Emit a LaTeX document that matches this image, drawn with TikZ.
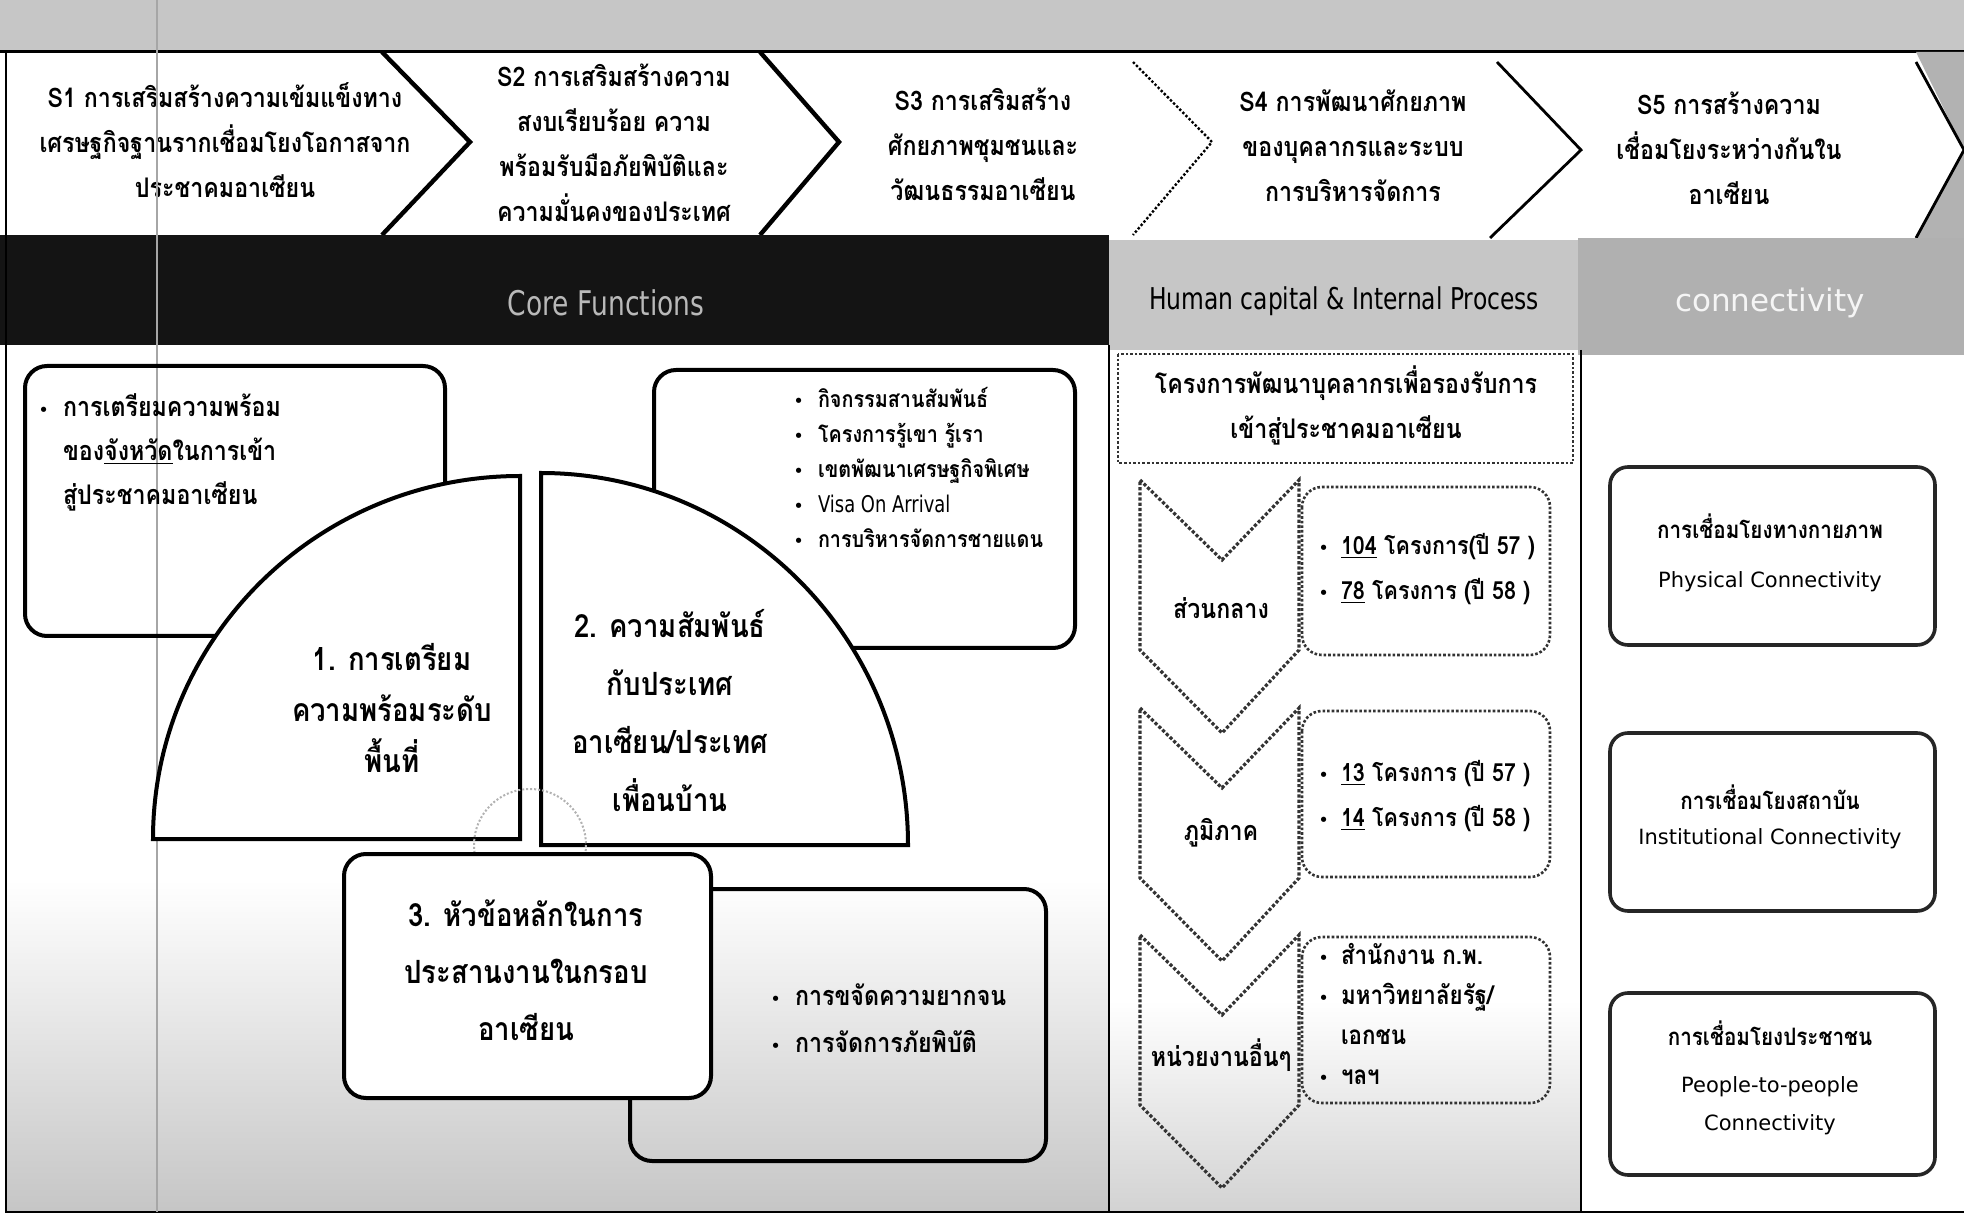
\documentclass[tikz,border=0pt]{standalone}
\usepackage{fontspec}
\setmainfont[Script=Thai]{Loma}
\newfontfamily\thai[Script=Thai,FakeStretch=0.86]{Loma}
\newfontfamily\lat{DejaVu Sans}
\newfontfamily\latc[FakeStretch=0.78]{DejaVu Sans}
\usetikzlibrary{calc}
\newcommand\fs[2]{\fontsize{#1}{#2}\selectfont}
\newcommand\bul{{\lat\mdseries\fontsize{9}{9}\selectfont\textbullet}}
\tikzset{
  hdr/.style={font=\thai\bfseries\fs{13.5}{22.5}, align=center, inner sep=0pt},
  bigtxt/.style={align=center, inner sep=0pt},
  lst/.style={inner sep=0pt, anchor=west},
  thick box/.style={draw=black, line width=2pt, rounded corners=11pt},
  dotbox/.style={draw=black!80, line width=1.3pt, densely dotted, rounded corners=10pt},
  chev/.style={draw=black!80, line width=1.6pt, densely dotted},
  conbox/.style={draw=black!85, line width=1.8pt, rounded corners=9pt},
}
\begin{document}
\begin{tikzpicture}[x=0.5pt,y=-0.5pt]
\useasboundingbox (0,0) rectangle (1964,1218);
\fill[white] (0,0) rectangle (1964,1218);
% bottom stipple-like shading
\shade[top color=white, bottom color=gray!45] (6,880) rectangle (1109,1212);
\shade[top color=white, bottom color=gray!35] (1109,1000) rectangle (1581,1212);
% top strip
\fill[gray!45] (0,0) rectangle (1964,52);
\draw[line width=1.5pt] (0,52) -- (1964,52);
% header right dark part
\fill[gray!60] (1916,52) -- (1964,52) -- (1964,150) -- cycle;
\fill[gray!60] (1916,238) -- (1964,238) -- (1964,150) -- cycle;
% header chevron edges
\draw[line width=2.2pt] (382,52) -- (470,142) -- (382,235);
\draw[line width=2.2pt] (760,52) -- (839,142) -- (760,235);
\draw[line width=1.2pt, densely dotted] (1133,62) -- (1212,142) -- (1133,235);
\draw[line width=1.4pt] (1497,62) -- (1581,150) -- (1490,238);
\draw[line width=1.4pt] (1916,62) -- (1964,150) -- (1916,238);
% header texts
\node[hdr] (s1) at (225,140) {S1 การเสริมสร้างความเข้มแข็งทาง\\เศรษฐกิจฐานรากเชื่อมโยงโอกาสจาก\\ประชาคมอาเซียน};
\node[hdr] (s2) at (614,143) {S2 การเสริมสร้างความ\\สงบเรียบร้อย ความ\\พร้อมรับมือภัยพิบัติและ\\ความมั่นคงของประเทศ};
\node[hdr] (s3) at (983,144) {S3 การเสริมสร้าง\\ศักยภาพชุมชนและ\\วัฒนธรรมอาเซียน};
\node[hdr] (s4) at (1353,146) {S4 การพัฒนาศักยภาพ\\ของบุคลากรและระบบ\\การบริหารจัดการ};
\node[hdr] (s5) at (1729,148) {S5 การสร้างความ\\เชื่อมโยงระหว่างกันใน\\อาเซียน};
% band
\fill[black!92] (0,235) rectangle (1109,345);
\fill[gray!45] (1109,240) rectangle (1578,350);
\fill[gray!62] (1578,238) rectangle (1964,355);
\node[font=\latc\fs{17}{20}, text=gray!55] (core) at (606,303) {Core Functions};
\node[font=\latc\fs{15}{18}] (hc) at (1344,301) {Human capital \& Internal Process};
\node[font=\lat\fs{15.5}{18}, text=gray!8] (cn) at (1770,303) {connectivity};
% frame lines
\draw[line width=1.2pt] (6,52) -- (6,1212) -- (1964,1212);
\draw[line width=1.2pt] (1109,345) -- (1109,1212);
\draw[line width=1.2pt] (1581,350) -- (1581,1212);
\draw[gray!70, line width=0.6pt] (157,0) -- (157,1212);
% left section
\draw[thick box] (25,366) rectangle (445,636);
\node[lst, font=\thai\bfseries\fs{13.5}{22}] (la) at (38,452) {\begin{tabular}{@{}l@{\hspace{7pt}}l@{}}\bul & การเตรียมความพร้อม\\ & ของ\underline{จังหวัด}ในการเข้า\\ & สู่ประชาคมอาเซียน\end{tabular}};
\draw[thick box] (654,370) rectangle (1075,648);
\node[lst, font=\thai\bfseries\fs{11.5}{17.5}] (lb) at (793,471) {\begin{tabular}{@{}l@{\hspace{7pt}}l@{}}\bul & กิจกรรมสานสัมพันธ์\\ \bul & โครงการรู้เขา รู้เรา\\ \bul & เขตพัฒนาเศรษฐกิจพิเศษ\\ \bul & {\latc\mdseries Visa On Arrival}\\ \bul & การบริหารจัดการชายแดน\end{tabular}};
% quarters
\draw[line width=2pt, fill=white] (153,839) arc[start angle=180, end angle=270, x radius=367, y radius=363] -- (520,839) -- cycle;
\draw[line width=2pt, fill=white] (541,473) arc[start angle=270, end angle=360, x radius=367, y radius=372] -- (541,845) -- cycle;
\node[bigtxt, font=\thai\bfseries\fs{16}{25.5}] (q1) at (392,708) {1. การเตรียม\\ความพร้อมระดับ\\พื้นที่};
\node[bigtxt, font=\thai\bfseries\fs{16}{29}] (q2) at (670,711) {2. ความสัมพันธ์\\กับประเทศ\\อาเซียน/ประเทศ\\เพื่อนบ้าน};
\draw[gray!60, densely dotted, line width=1pt] (530,845) circle[radius=56];
% bottom boxes
\draw[thick box] (630,889) rectangle (1046,1161);
\node[lst, font=\thai\bfseries\fs{13.5}{23.5}] (ld) at (770,1020) {\begin{tabular}{@{}l@{\hspace{7pt}}l@{}}\bul & การขจัดความยากจน\\ \bul & การจัดการภัยพิบัติ\end{tabular}};
\draw[thick box, fill=white] (344,854) rectangle (711,1098);
\node[bigtxt, font=\thai\bfseries\fs{16}{28.5}] (q3) at (526,970) {3. หัวข้อหลักในการ\\ประสานงานในกรอบ\\อาเซียน};
% S4 column
\draw[dotbox, rounded corners=0pt] (1118,354) rectangle (1573,463);
\node[hdr] (hr) at (1346,405) {โครงการพัฒนาบุคลากรเพื่อรองรับการ\\เข้าสู่ประชาคมอาเซียน};
\foreach \t in {480,708,935}{
  \draw[chev] (1140,\t) -- (1222,\t+80) -- (1299,\t) -- (1299,\t+170) -- (1222,\t+253) -- (1140,\t+170) -- cycle;
}
\node[font=\thai\bfseries\fs{13.5}{16}, inner sep=0pt] (k1) at (1221,608) {ส่วนกลาง};
\node[font=\thai\bfseries\fs{13.5}{16}, inner sep=0pt] (k2) at (1221,833) {ภูมิภาค};
\node[font=\thai\bfseries\fs{13.5}{16}, inner sep=0pt] (k3) at (1221,1055) {หน่วยงานอื่นๆ};
\draw[dotbox] (1302,487) rectangle (1550,655);
\draw[dotbox] (1302,711) rectangle (1550,877);
\draw[dotbox] (1302,937) rectangle (1550,1103);
\node[lst, font=\thai\bfseries\fs{12.5}{22.5}] (p1) at (1318,568) {\begin{tabular}{@{}l@{\hspace{6pt}}l@{}}\bul & \underline{104} โครงการ(ปี 57 )\\ \bul & \underline{78} โครงการ (ปี 58 )\end{tabular}};
\node[lst, font=\thai\bfseries\fs{12.5}{22.5}] (p2) at (1318,795) {\begin{tabular}{@{}l@{\hspace{6pt}}l@{}}\bul & \underline{13} โครงการ (ปี 57 )\\ \bul & \underline{14} โครงการ (ปี 58 )\end{tabular}};
\node[lst, font=\thai\bfseries\fs{13}{20}] (p3) at (1318,1016) {\begin{tabular}{@{}l@{\hspace{6pt}}l@{}}\bul & สำนักงาน ก.พ.\\ \bul & มหาวิทยาลัยรัฐ/\\ & เอกชน\\ \bul & ฯลฯ\end{tabular}};
% S5 column
\draw[conbox] (1610,467) rectangle (1935,645);
\draw[conbox] (1610,733) rectangle (1935,911);
\draw[conbox] (1610,993) rectangle (1935,1175);
\node[font=\thai\bfseries\fs{12}{14}, inner sep=0pt] (t1) at (1770,526) {การเชื่อมโยงทางกายภาพ};
\node[font=\lat\fs{10.5}{12}, inner sep=0pt] (e1) at (1770,582) {Physical Connectivity};
\node[font=\thai\bfseries\fs{12}{14}, inner sep=0pt] (t2) at (1770,797) {การเชื่อมโยงสถาบัน};
\node[font=\lat\fs{10.5}{12}, inner sep=0pt] (e2) at (1770,839) {Institutional Connectivity};
\node[font=\thai\bfseries\fs{12}{14}, inner sep=0pt] (t3) at (1770,1033) {การเชื่อมโยงประชาชน};
\node[font=\lat\fs{10.5}{19}, align=center, inner sep=0pt] (e3) at (1770,1106) {People-to-people\\Connectivity};
\end{tikzpicture}
\end{document}
